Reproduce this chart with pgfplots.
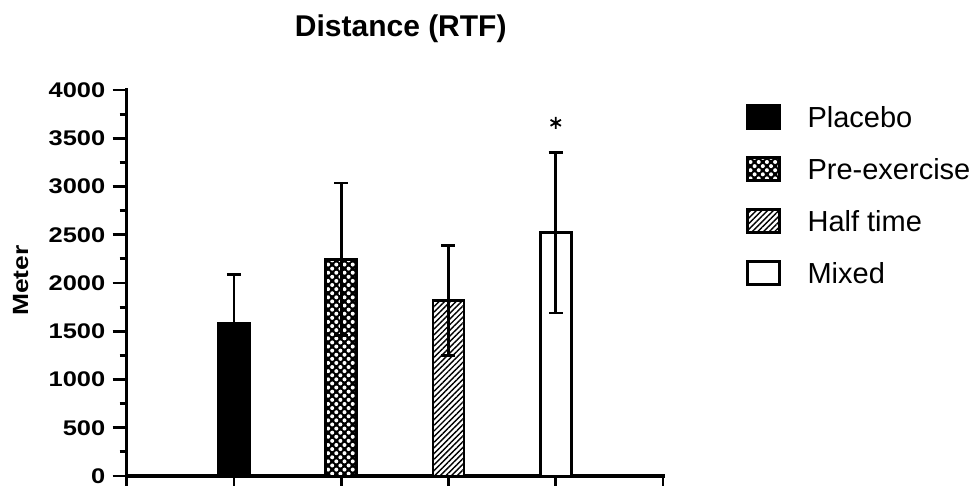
\documentclass[border=0pt]{standalone}
\usepackage{fontspec}
\setmainfont{Liberation Sans}
\newfontfamily\tickfont[FakeStretch=1.2]{Liberation Sans}
\usepackage{pgfplots}
\pgfplotsset{compat=1.18}
\usetikzlibrary{patterns.meta}

\pgfplotsset{
  eb/.style={
    /pgfplots/error bars/y dir=both,
    /pgfplots/error bars/y explicit,
    /pgfplots/error bars/error bar style={line width=1.3pt, black, solid},
    /pgfplots/error bars/error mark options={rotate=90, mark size=3.5pt, line width=1.3pt, black}
  },
  boxlegend/.style={
    /pgfplots/legend image code/.code={\draw[##1, line width=1.3pt] (0pt,-5.75pt) rectangle (16pt,5.75pt);}
  },
  mybar/.style={ybar, bar shift=0pt, bar width=0.29, draw=black, line width=1.4pt, boxlegend, eb},
}

\begin{document}
\begin{tikzpicture}
\path[use as bounding box, clip] (-63.35pt,-5pt) rectangle (426.15pt,238pt);
\begin{axis}[
  at={(0pt,0pt)}, anchor=south west,
  scale only axis, width=268.15pt, height=193pt,
  xmin=0, xmax=5, ymin=0, ymax=4000,
  axis lines*=left,
  axis line style={-, line width=1.6pt, line cap=rect},
  xtick={0,1,2,3,4,5}, xticklabels={},
  ytick={0,500,...,4000},
  minor y tick num=1,
  tick align=outside,
  major tick length=7pt, minor tick length=3.5pt,
  tick style={line width=1.4pt, black},
  /pgf/number format/assume math mode=true,
  /pgf/number format/1000 sep={},
  yticklabel style={font=\tickfont\bfseries\fontsize{10.6}{13}\selectfont, anchor=east, inner sep=0pt, xshift=-3.5pt},
  ylabel={Meter},
  ylabel style={font=\tickfont\bfseries\fontsize{11}{13}\selectfont, at={(axis description cs:-0.1977,0.506)}, anchor=center},
  title={Distance (RTF)},
  title style={font=\bfseries\fontsize{15}{18}\selectfont, at={(axis description cs:0.511,1)}, anchor=base, yshift=20.7pt},
  legend cell align=left,
  legend style={
    at={(axis description cs:1.154,1)}, anchor=north west, yshift=-7pt,
    draw=none, fill=none, inner sep=0pt,
    font=\fontsize{14.5}{17}\selectfont,
    nodes={inner sep=0pt, text height=10.5pt, text depth=0pt},
    row sep=13.2pt,
    /tikz/every odd column/.append style={column sep=13.5pt},
  },
]
\addplot[mybar, fill=black] coordinates {(1,1580) +- (0,510)};
\addlegendentry{Placebo}
\addplot[mybar, fill=black, postaction={pattern={Dots[distance=2.9pt, radius=1pt, angle=45]}, pattern color=white}] coordinates {(2,2245) +- (0,790)};
\addlegendentry{Pre-exercise}
\addplot[mybar, fill=white, postaction={pattern={Lines[angle=45, distance=2pt, line width=0.7pt]}, pattern color=black}] coordinates {(3,1820) +- (0,570)};
\addlegendentry{Half time}
\addplot[mybar, fill=white] coordinates {(4,2520) +- (0,830)};
\addlegendentry{Mixed}
\addplot[forget plot, only marks, mark=asterisk, mark size=3pt, mark options={line width=0.9pt, black}] coordinates {(4,3660)};
\end{axis}
\end{tikzpicture}
\end{document}
